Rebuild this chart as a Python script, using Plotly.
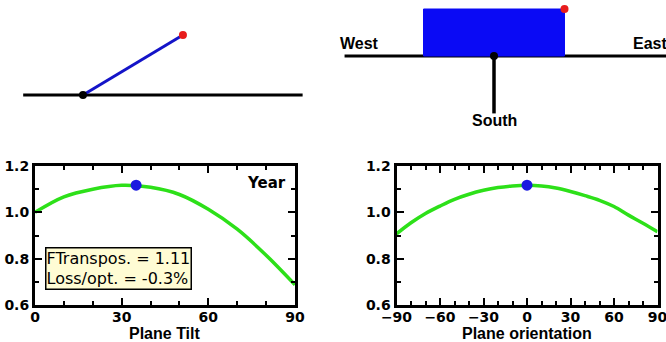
import math
import plotly.graph_objects as go

# ---------------- data ----------------
tilt_x = [0, 10, 20, 30, 40, 50, 60, 70, 80, 90]
tilt_y = [1.000, 1.067, 1.100, 1.117, 1.108, 1.077, 1.013, 0.927, 0.815, 0.687]

orient_x = [-90, -80, -70, -60, -50, -40, -30, -20, -10, 0, 10, 20, 30, 40, 50, 60, 70, 80, 90]
orient_y = [0.907, 0.955, 0.995, 1.027, 1.056, 1.078, 1.095, 1.107, 1.114, 1.117,
            1.114, 1.105, 1.090, 1.072, 1.052, 1.025, 0.988, 0.953, 0.916]

opt_tilt = 35
opt_tilt_val = 1.117
opt_orient = 0
opt_orient_val = 1.117

tilt_ticks = [0, 30, 60, 90]
orient_ticks = [-90, -60, -30, 0, 30, 60, 90]
y_ticks = [0.6, 0.8, 1.0, 1.2]

ftranspos = 1.11
loss_opt = -0.3
period_label = "Year"

# schematic diagram parameters (in diagram units)
plane_len = 1.0
plane_halfwidth = 1.0
side_ground = [-0.49, 1.80]
top_ground = [-2.12, 2.44]
south_len = 1.0

GREEN = "#2de019"
BLUE_DOT = "#1a1ae0"
RED = "#e81c1c"

fig = go.Figure()

# ---------------- bottom-left: tilt ----------------
fig.add_trace(go.Scatter(x=tilt_x, y=tilt_y, mode="lines", line=dict(color=GREEN, width=3.5, shape="spline"),
                         xaxis="x", yaxis="y", showlegend=False, hoverinfo="skip"))
fig.add_trace(go.Scatter(x=[opt_tilt], y=[opt_tilt_val], mode="markers", marker=dict(color=BLUE_DOT, size=11),
                         xaxis="x", yaxis="y", showlegend=False))

# ---------------- bottom-right: orientation ----------------
fig.add_trace(go.Scatter(x=orient_x, y=orient_y, mode="lines", line=dict(color=GREEN, width=3.5, shape="spline"),
                         xaxis="x2", yaxis="y2", showlegend=False, hoverinfo="skip"))
fig.add_trace(go.Scatter(x=[opt_orient], y=[opt_orient_val], mode="markers", marker=dict(color=BLUE_DOT, size=11),
                         xaxis="x2", yaxis="y2", showlegend=False))

# ---------------- top-left: side view ----------------
t = math.radians(opt_tilt)
px_end = plane_len * math.cos(t)
py_end = plane_len * math.sin(t)
fig.add_trace(go.Scatter(x=side_ground, y=[0, 0], mode="lines", line=dict(color="black", width=3),
                         xaxis="x3", yaxis="y3", showlegend=False, hoverinfo="skip"))
fig.add_trace(go.Scatter(x=[0, px_end], y=[0, py_end], mode="lines", line=dict(color="#1414c8", width=3),
                         xaxis="x3", yaxis="y3", showlegend=False, hoverinfo="skip"))
fig.add_trace(go.Scatter(x=[0], y=[0], mode="markers", marker=dict(color="black", size=8),
                         xaxis="x3", yaxis="y3", showlegend=False))
fig.add_trace(go.Scatter(x=[px_end], y=[py_end], mode="markers", marker=dict(color=RED, size=8),
                         xaxis="x3", yaxis="y3", showlegend=False))

# ---------------- top-right: top view ----------------
a = math.radians(opt_orient)
depth = plane_len * math.cos(t)
corners = [(-plane_halfwidth, 0), (plane_halfwidth, 0), (plane_halfwidth, depth), (-plane_halfwidth, depth), (-plane_halfwidth, 0)]
rx = [cx * math.cos(a) - cy * math.sin(a) for cx, cy in corners]
ry = [cx * math.sin(a) + cy * math.cos(a) for cx, cy in corners]
fig.add_trace(go.Scatter(x=top_ground, y=[0, 0], mode="lines", line=dict(color="black", width=3),
                         xaxis="x4", yaxis="y4", showlegend=False, hoverinfo="skip"))
fig.add_trace(go.Scatter(x=rx, y=ry, mode="lines", fill="toself", fillcolor="#0a0af5",
                         line=dict(color="#0a0af5", width=1),
                         xaxis="x4", yaxis="y4", showlegend=False, hoverinfo="skip"))
fig.add_trace(go.Scatter(x=[0, 0], y=[0, -south_len], mode="lines", line=dict(color="black", width=3.5),
                         xaxis="x4", yaxis="y4", showlegend=False, hoverinfo="skip"))
fig.add_trace(go.Scatter(x=[0], y=[0], mode="markers", marker=dict(color="black", size=8),
                         xaxis="x4", yaxis="y4", showlegend=False))
fig.add_trace(go.Scatter(x=[rx[2]], y=[ry[2]], mode="markers", marker=dict(color=RED, size=8),
                         xaxis="x4", yaxis="y4", showlegend=False))

W, H = 666, 342
tickfont = dict(family="DejaVu Sans", size=14, color="black", weight="bold")

def frame_axis(**kw):
    d = dict(showline=True, linecolor="black", linewidth=3, mirror="allticks",
             ticks="inside", ticklen=7, tickwidth=1.5, tickcolor="black", automargin=False,
             ticklabeloverflow="allow",
             showgrid=False, zeroline=False, tickfont=tickfont, fixedrange=True)
    d.update(kw)
    return d

def hidden_axis(**kw):
    d = dict(visible=False, fixedrange=True, automargin=False, showgrid=False, zeroline=False)
    d.update(kw)
    return d

minor_x = dict(dtick=10, ticks="inside", ticklen=4, tickwidth=1.5, tickcolor="black", showgrid=False)
minor_y = dict(dtick=0.1, ticks="inside", ticklen=4, tickwidth=1.5, tickcolor="black", showgrid=False)

ydom = [1 - 305 / H, 1 - 166 / H]
fig.update_layout(
    width=W, height=H, margin=dict(l=0, r=0, t=0, b=0, autoexpand=False),
    paper_bgcolor="white", plot_bgcolor="white",
    xaxis=frame_axis(domain=[35 / W, 295 / W], range=[0, 90], tickvals=tilt_ticks, anchor="y",
                     minor=minor_x, ticklabelstandoff=-3),
    yaxis=frame_axis(domain=ydom, range=[0.6, 1.2], tickvals=y_ticks, tickformat=".1f", anchor="x", minor=minor_y),
    xaxis2=frame_axis(domain=[396.5 / W, 657.5 / W], range=[-90, 90], tickvals=orient_ticks, anchor="y2",
                      minor=minor_x, ticklabelstandoff=-3),
    yaxis2=frame_axis(domain=ydom, range=[0.6, 1.2], tickvals=y_ticks, tickformat=".1f", anchor="x2", minor=minor_y),
    xaxis3=hidden_axis(domain=[0, 0.5], range=[-0.680, 2.049], anchor="y3"),
    yaxis3=hidden_axis(domain=[1 - 140 / H, 1], range=[-0.430, 0.908], anchor="x3"),
    xaxis4=hidden_axis(domain=[0.5, 1], range=[-2.284, 2.440], anchor="y4"),
    yaxis4=hidden_axis(domain=[1 - 140 / H, 1], range=[-1.463, 0.976], anchor="x4"),
)

boldf = dict(family="Liberation Sans", size=16, color="black", weight="bold")
fig.add_annotation(text="Plane Tilt", x=165 / W, y=1 - 333 / H, xref="paper", yref="paper",
                   showarrow=False, font=boldf, xanchor="center", yanchor="middle")
fig.add_annotation(text="Plane orientation", x=527 / W, y=1 - 333 / H, xref="paper", yref="paper",
                   showarrow=False, font=boldf, xanchor="center", yanchor="middle")
fig.add_annotation(text=period_label, x=266 / W, y=1 - 183 / H, xref="paper", yref="paper",
                   showarrow=False, font=dict(family="DejaVu Sans", size=15, color="black", weight="bold"),
                   xanchor="center", yanchor="middle")
fig.add_annotation(text=f"FTranspos. = {ftranspos:.2f}<br>Loss/opt. = {loss_opt:.1f}%",
                   x=45 / W, y=1 - 268.5 / H, xref="paper", yref="paper", showarrow=False,
                   font=dict(family="DejaVu Sans", size=16, color="black"), align="left",
                   xanchor="left", yanchor="middle", bgcolor="#fffcd4", bordercolor="black",
                   borderwidth=1.5, borderpad=0)
labf = dict(family="Liberation Sans", size=16, color="black", weight="bold")
fig.add_annotation(text="West", x=-1.915, y=0.03, xref="x4", yref="y4", showarrow=False,
                   font=labf, xanchor="center", yanchor="bottom")
fig.add_annotation(text="East", x=1.94, y=0.03, xref="x4", yref="y4", showarrow=False,
                   font=labf, xanchor="left", yanchor="bottom")
fig.add_annotation(text="South", x=0, y=-1.115, xref="x4", yref="y4", showarrow=False,
                   font=labf, xanchor="center", yanchor="middle")

fig.write_html("out.html")
